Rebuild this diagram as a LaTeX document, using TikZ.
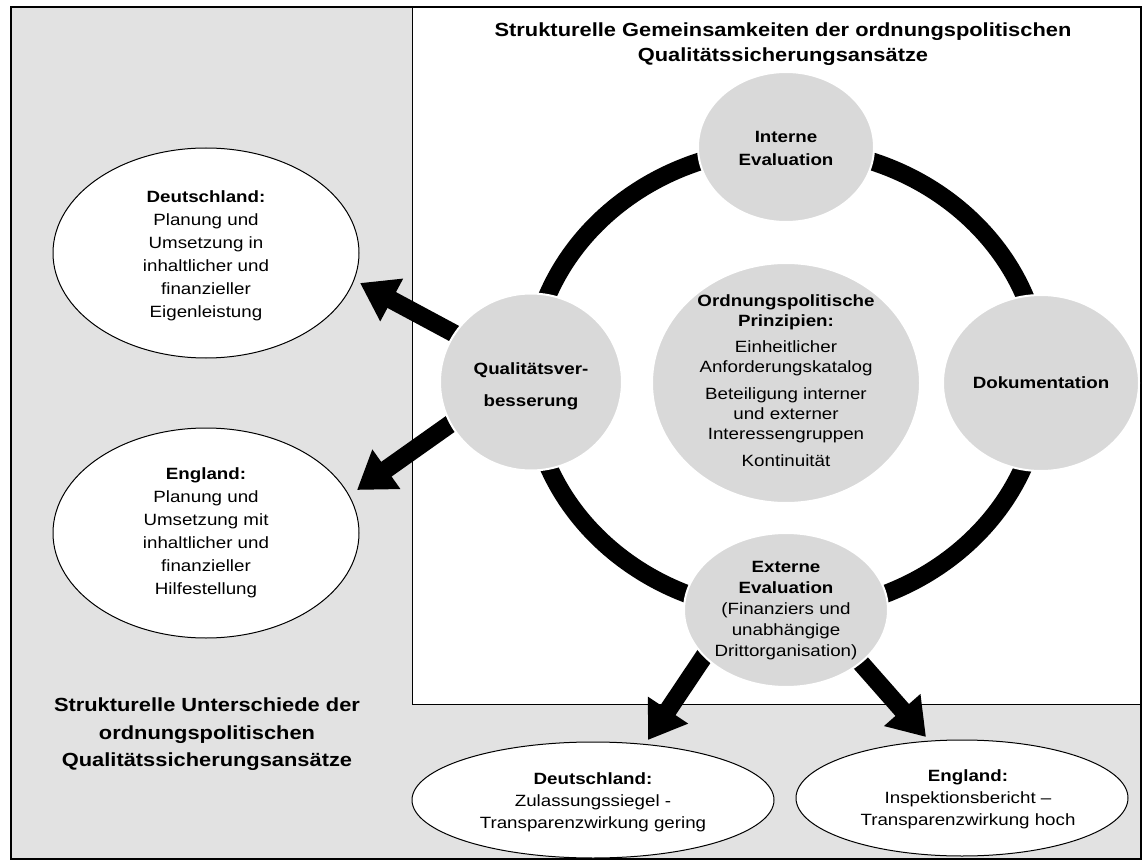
\documentclass[tikz,border=0pt]{standalone}
\usepackage{fontspec}
\setmainfont{Liberation Sans}[FakeStretch=1.15]
\usetikzlibrary{arrows.meta,shapes.geometric}
\definecolor{bggray}{RGB}{226,226,226}
\definecolor{cgray}{RGB}{217,217,217}
\tikzset{
  gcirc/.style={ellipse, fill=cgray, draw=white, line width=2pt, inner sep=0pt},
  wellipse/.style={ellipse, fill=white, draw=black, line width=1pt, inner sep=0pt},
  txt/.style={align=center, inner sep=0pt, font=\fontsize{16.3}{23}\selectfont},
  head/.style={align=center, inner sep=0pt, font=\fontsize{19}{25}\selectfont\bfseries},
  ringline/.style={line width=18pt, draw=black},
  bigarrow/.style={line width=18pt, draw=black, -{Triangle[length=36pt,width=46pt]}},
}
\begin{document}
\begin{tikzpicture}[x=1pt,y=-1pt]
\useasboundingbox (0,0) rectangle (1144,861);
% background
\fill[bggray] (11,7) rectangle (1141,859);
\draw[black, line width=1pt, fill=white] (412,8) rectangle (1141,704);
\draw[black, line width=2.5pt] (11,7) rectangle (1141,859);
% ring
\draw[ringline] (786,380) ellipse [x radius=256pt, y radius=232pt];
% arrow coordinates
\coordinate (qa1) at (470,342); \coordinate (tipDE) at (360,283);
\coordinate (qa2) at (470,410); \coordinate (tipEN) at (357,490);
\coordinate (ea1) at (715,640); \coordinate (tipBDE) at (648,740);
\coordinate (ea2) at (845,645); \coordinate (tipBEN) at (926,737);
\draw[bigarrow] (qa1) -- (tipDE);
\draw[bigarrow] (qa2) -- (tipEN);
\draw[bigarrow] (ea1) -- (tipBDE);
\draw[bigarrow] (ea2) -- (tipBEN);
% circles
\node[gcirc, minimum width=176pt, minimum height=150pt] (intern) at (786,147) {};
\node[gcirc, minimum width=196pt, minimum height=176pt] (doku) at (1041,383) {};
\node[gcirc, minimum width=182pt, minimum height=177pt] (qual) at (531,382) {};
\node[gcirc, minimum width=204pt, minimum height=154pt] (extern) at (786,610) {};
\node[gcirc, minimum width=268pt, minimum height=240pt] (prinz) at (786,383) {};
% white ellipses
\node[wellipse, minimum width=306pt, minimum height=210pt] (deL) at (206,253) {};
\node[wellipse, minimum width=306pt, minimum height=210pt] (enL) at (206,533) {};
\node[wellipse, minimum width=362pt, minimum height=116pt] (deB) at (593,800) {};
\node[wellipse, minimum width=332pt, minimum height=116pt] (enB) at (962,798) {};
% headings
\node[head] (title) at (783,44.5) {Strukturelle Gemeinsamkeiten der ordnungspolitischen\\Qualitätssicherungsansätze};
\node[head, font=\fontsize{19}{27.5}\selectfont\bfseries] (diff) at (207,734.5) {Strukturelle Unterschiede der\\ordnungspolitischen\\Qualitätssicherungsansätze};
% texts
\node[txt] (intern-t) at (786,148.5) {\textbf{Interne}\\\textbf{Evaluation}};
\node[txt] (doku-t) at (1041,383) {\textbf{Dokumentation}};
\node[txt, font=\fontsize{16.3}{20}\selectfont] (qual-t) at (531,386) {\textbf{Qualitätsver-}\\[12pt]\textbf{besserung}};
\node[txt, font=\fontsize{16.3}{20}\selectfont] (prinz-t) at (786,381) {\textbf{Ordnungspolitische}\\\textbf{Prinzipien:}\\[6pt]Einheitlicher\\Anforderungskatalog\\[7pt]Beteiligung interner\\und externer\\Interessengruppen\\[7pt]Kontinuität};
\node[txt, font=\fontsize{16.3}{21}\selectfont] (extern-t) at (786,610.5) {\textbf{Externe}\\\textbf{Evaluation}\\(Finanziers und\\unabhängige\\Drittorganisation)};
\node[txt] (deL-t) at (206,255.5) {\textbf{Deutschland:}\\Planung und\\Umsetzung in\\inhaltlicher und\\finanzieller\\Eigenleistung};
\node[txt] (enL-t) at (206,532.5) {\textbf{England:}\\Planung und\\Umsetzung mit\\inhaltlicher und\\finanzieller\\Hilfestellung};
\node[txt, font=\fontsize{16.3}{22}\selectfont] (deB-t) at (593,802.5) {\textbf{Deutschland:}\\Zulassungssiegel -\\Transparenzwirkung gering};
\node[txt, font=\fontsize{16.3}{22}\selectfont] (enB-t) at (968,799.5) {\textbf{England:}\\Inspektionsbericht –\\Transparenzwirkung hoch};
\end{tikzpicture}
\end{document}
